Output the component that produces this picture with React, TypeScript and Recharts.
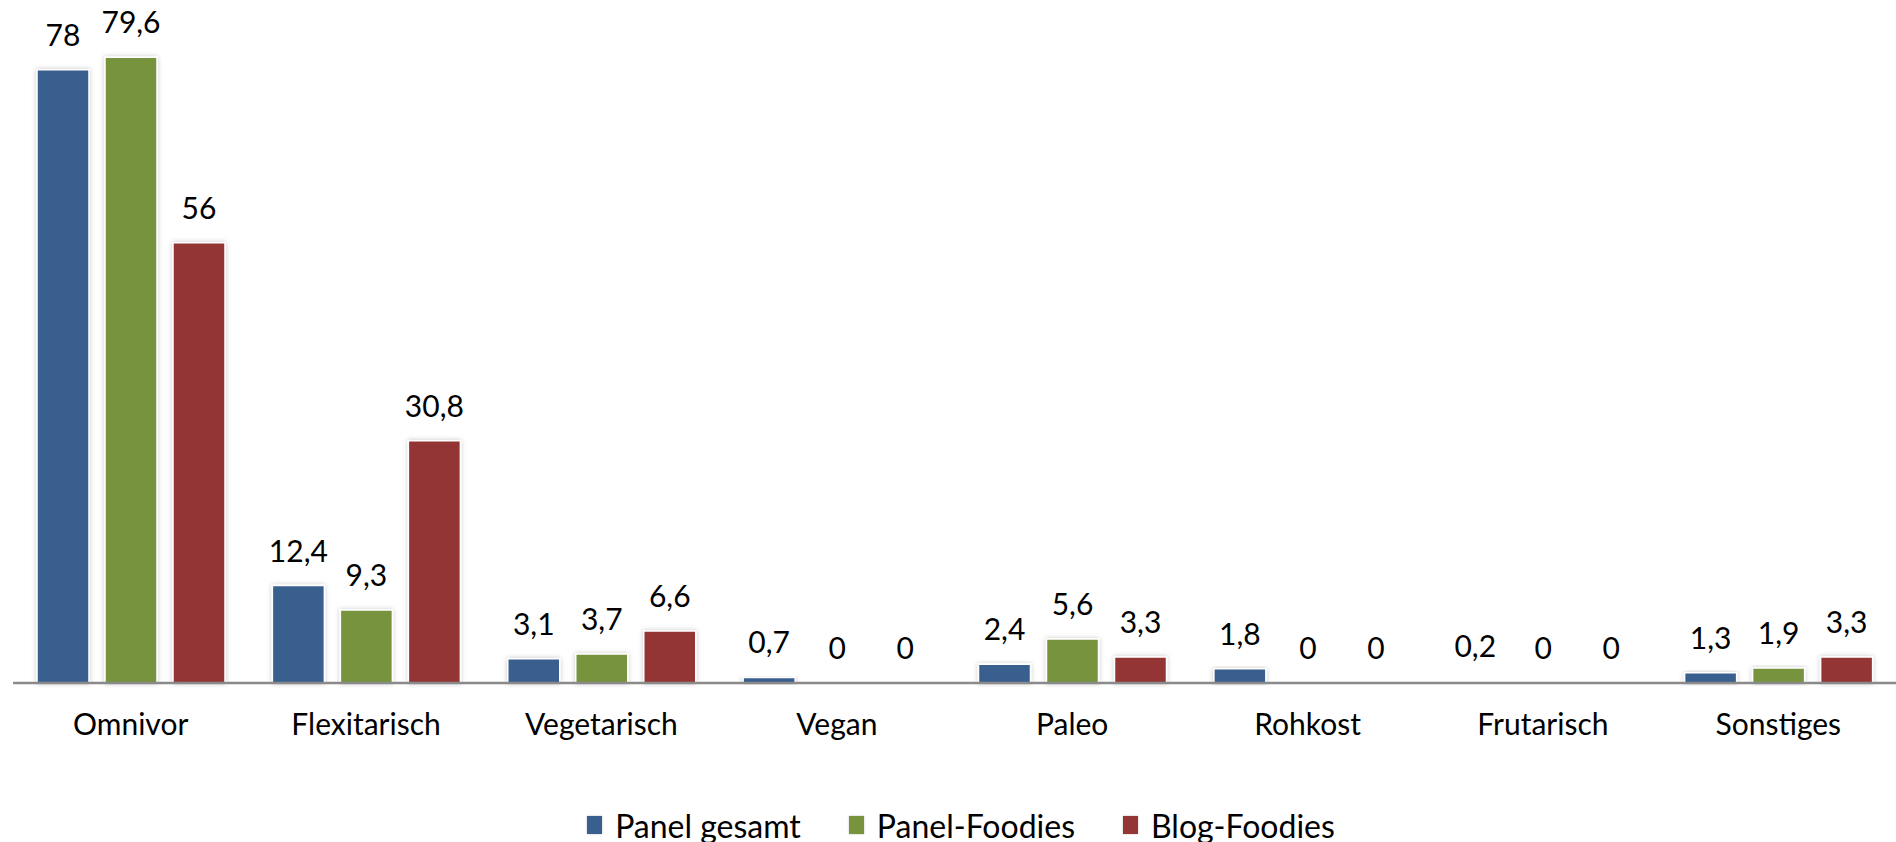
import React from "react";
import {
  Bar,
  BarChart,
  LabelList,
  Legend,
  Rectangle,
  XAxis,
  YAxis,
} from "recharts";

const categories = [
  "Omnivor",
  "Flexitarisch",
  "Vegetarisch",
  "Vegan",
  "Paleo",
  "Rohkost",
  "Frutarisch",
  "Sonstiges",
];
const panelGesamt = [78, 12.4, 3.1, 0.7, 2.4, 1.8, 0.2, 1.3];
const panelFoodies = [79.6, 9.3, 3.7, 0, 5.6, 0, 0, 1.9];
const blogFoodies = [56, 30.8, 6.6, 0, 3.3, 0, 0, 3.3];

const series = [
  { key: "panelGesamt", name: "Panel gesamt", color: "#385F8E" },
  { key: "panelFoodies", name: "Panel-Foodies", color: "#77933C" },
  { key: "blogFoodies", name: "Blog-Foodies", color: "#943635" },
];

const data = categories.map((name, i) => ({
  name,
  panelGesamt: panelGesamt[i],
  panelFoodies: panelFoodies[i],
  blogFoodies: blogFoodies[i],
}));

const FONT = "Lato, 'Open Sans', sans-serif";
const fmt = (v: number) => String(v).replace(".", ",");

const CategoryTick = (props: any) => {
  const { x, y, payload } = props;
  return (
    <text
      x={x}
      y={y}
      dy={52}
      textAnchor="middle"
      fill="#000"
      fontSize={30}
      fontFamily={FONT}
    >
      {payload.value}
    </text>
  );
};

// zero values keep a hairline rect so their "0" label still gets placed,
// but nothing is painted for them
const BarShape = (props: any) => {
  if (!props.value) return null;
  return <Rectangle {...props} />;
};

const LegendBox = () => (
  <div
    style={{
      display: "flex",
      justifyContent: "center",
      alignItems: "center",
      gap: 48,
      height: 50,
      paddingTop: 16,
      boxSizing: "border-box",
      paddingLeft: 26,
      fontFamily: FONT,
      fontSize: 32,
      color: "#000",
    }}
  >
    {series.map((s) => (
      <div key={s.key} style={{ display: "flex", alignItems: "center" }}>
        <span
          style={{
            display: "inline-block",
            width: 15,
            height: 18,
            background: s.color,
            marginRight: 13,
            boxShadow: "0 0 2px rgba(0,0,0,0.25)",
          }}
        />
        <span>{s.name}</span>
      </div>
    ))}
  </div>
);

export default function App() {
  return (
    <div style={{ position: "absolute", left: 0, top: 0 }}>
      <BarChart
        width={1896}
        height={842}
        data={data}
        margin={{ top: 54, right: 0, bottom: 0, left: 13 }}
        barCategoryGap={24}
        barGap={16}
      >
        <defs>
          <filter id="barShadow" x="-20%" y="-20%" width="140%" height="140%">
            <feDropShadow dx="0" dy="0" stdDeviation="2.5" floodColor="#000" floodOpacity="0.22" />
          </filter>
        </defs>
        <XAxis
          dataKey="name"
          height={109}
          tickLine={false}
          tickSize={0}
          tickMargin={0}
          axisLine={{ stroke: "#8a8a8a", strokeWidth: 2.5 }}
          tick={<CategoryTick />}
          interval={0}
        />
        <YAxis hide domain={[0, 80]} />
        <Legend
          verticalAlign="bottom"
          content={<LegendBox />}
          wrapperStyle={{ bottom: 0, left: 0, width: 1896 }}
        />
        {series.map((s) => (
          <Bar
            key={s.key}
            dataKey={s.key}
            name={s.name}
            fill={s.color}
            stroke="#fff"
            strokeWidth={1.5}
            filter="url(#barShadow)"
            minPointSize={0.01}
            shape={<BarShape />}
            isAnimationActive={false}
          >
            <LabelList
              dataKey={s.key}
              position="top"
              offset={24}
              formatter={(v: any) => fmt(v)}
              style={{ fontFamily: FONT, fontSize: 30, fill: "#000" }}
            />
          </Bar>
        ))}
      </BarChart>
    </div>
  );
}
